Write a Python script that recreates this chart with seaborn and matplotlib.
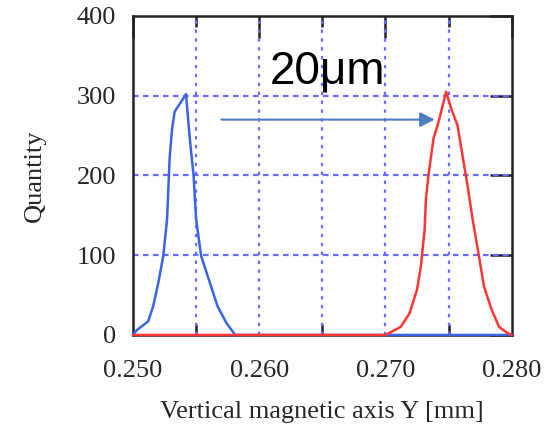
import matplotlib
matplotlib.use("Agg")
import matplotlib.pyplot as plt
import seaborn as sns
import pandas as pd

# blue distribution (before shift)
blue_x = [0.2500, 0.2503, 0.2512, 0.2516, 0.2520, 0.2524, 0.2527, 0.2529, 0.2531,
          0.2533, 0.2538, 0.2542, 0.2545, 0.2548, 0.2550, 0.2554, 0.2561, 0.2567,
          0.2574, 0.2581, 0.2800]
blue_y = [0, 6, 17, 36, 65, 99, 145, 221, 259, 280, 292, 302, 246, 200, 145, 99,
          65, 36, 15, 0, 0]

# red distribution (after shift)
red_x = [0.2500, 0.2700, 0.2712, 0.2719, 0.2725, 0.2728, 0.2731, 0.2732, 0.2734,
         0.2738, 0.2742, 0.2746, 0.2748, 0.2752, 0.2757, 0.2761, 0.2765, 0.2769,
         0.2774, 0.2778, 0.2784, 0.2790, 0.2797, 0.2800]
red_y = [0, 0, 10, 27, 57, 86, 132, 170, 200, 246, 267, 292, 305, 284, 263, 225,
         187, 145, 99, 61, 32, 10, 2, 0]

x_major = [0.250, 0.260, 0.270, 0.280]
x_minor = [0.255, 0.265, 0.275]
x_labels = ["0.250", "0.260", "0.270", "0.280"]
y_ticks = [0, 100, 200, 300, 400]

arrow_start = (0.2570, 270)
arrow_end = (0.2739, 270)
shift_label = "20μm"

sns.set_style("white")
plt.rcParams["font.family"] = ["Liberation Serif", "DejaVu Serif"]

fig = plt.figure(figsize=(5.45, 4.30), dpi=100)
ax = fig.add_axes([0.244, 0.221, 0.695, 0.742])

blue_df = pd.DataFrame({"x": blue_x, "y": blue_y})
red_df = pd.DataFrame({"x": red_x, "y": red_y})

# dotted blue grid
for xv in x_major[1:-1] + x_minor:
    ax.axvline(xv, color="#6b6bff", linestyle=(0, (1.5, 2.5)), lw=1.6, zorder=1)
for yv in y_ticks[1:-1]:
    ax.axhline(yv, color="#6b6bff", linestyle=(0, (2.5, 2.0)), lw=1.6, zorder=1)

sns.lineplot(data=blue_df, x="x", y="y", color="#3a64e6", lw=1.8, ax=ax,
             zorder=3, clip_on=False)
sns.lineplot(data=red_df, x="x", y="y", color="#ff3535", lw=1.8, ax=ax,
             zorder=4, clip_on=False)

ax.annotate("", xy=arrow_end, xytext=arrow_start,
            arrowprops=dict(arrowstyle="-|>", color="#4a7cc0", lw=1.5,
                            mutation_scale=22, shrinkA=0, shrinkB=0),
            zorder=5)
ax.text(0.2608, 315, shift_label, fontsize=33, family=["Liberation Sans", "DejaVu Sans"],
        color="black", ha="left", va="baseline", zorder=6)

ax.set_xlim(0.250, 0.280)
ax.set_ylim(0, 400)
ax.set_xticks(x_major)
ax.set_xticklabels(x_labels)
ax.set_xticks(x_minor, minor=True)
ax.set_yticks(y_ticks)
ax.tick_params(axis="both", which="major", direction="in", length=16, width=1.8,
               color="#222222", labelsize=19, top=True, right=True)
ax.tick_params(axis="x", which="minor", direction="in", length=8, width=1.8,
               color="#222222", top=True, bottom=True)
ax.tick_params(axis="x", which="major", pad=18)
ax.tick_params(axis="y", pad=12)

for s in ax.spines.values():
    s.set_color("#222222")
    s.set_linewidth(1.8)

ax.set_xlabel("Vertical magnetic axis Y [mm]", fontsize=19, labelpad=14)
ax.set_ylabel("Quantity", fontsize=19, labelpad=22)

fig.savefig("out.png", dpi=100)
